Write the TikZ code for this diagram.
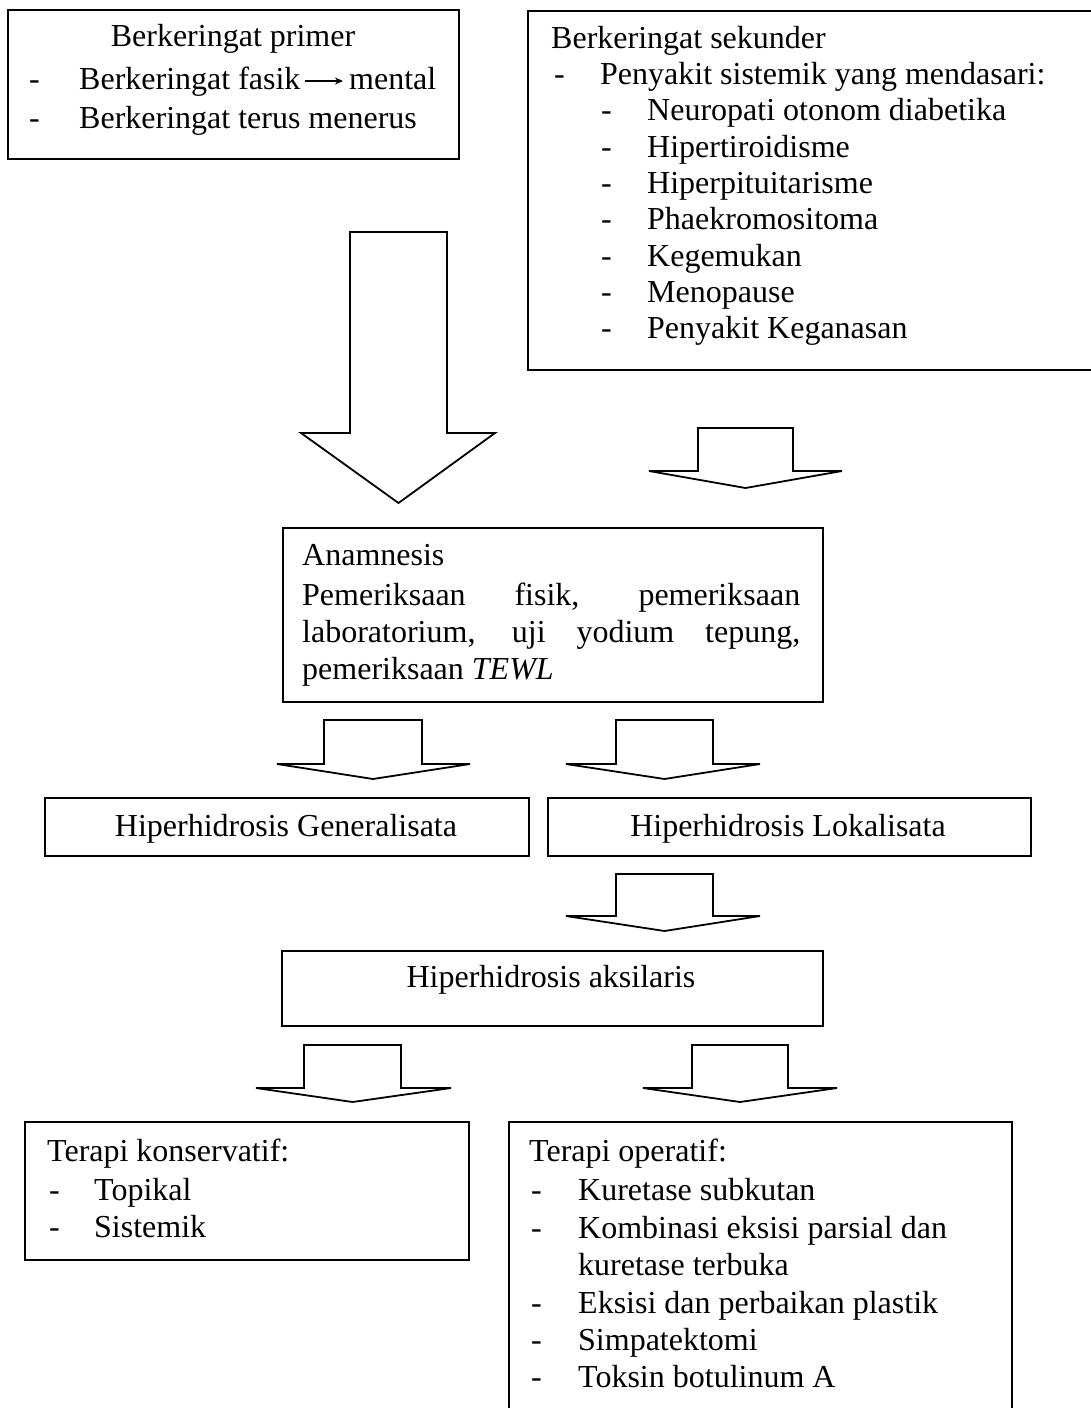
\documentclass[tikz,border=0pt]{standalone}
\usepackage{fontspec}
\setmainfont{Liberation Serif}
\usetikzlibrary{arrows.meta}
\newcommand\fsz{\fontsize{32}{37}\selectfont}
\newcommand\blockarrow[7]{%
  \draw[blk] (#1,#3) -- (#2,#3) -- (#2,#4) -- (#6,#4) -- ({(#1+#2)/2},#7) -- (#5,#4) -- (#1,#4) -- cycle;}
\begin{document}
\begin{tikzpicture}[x=1pt,y=-1pt,
  box/.style={draw, line width=1.8pt, inner sep=0pt, anchor=north west},
  txt/.style={inner sep=0pt, anchor=base west, font=\fsz},
  ctxt/.style={inner sep=0pt, anchor=base, font=\fsz},
  blk/.style={draw, line width=1.8pt, line join=miter},
  thinarrow/.style={draw, line width=1.3pt, -{Stealth[length=8pt,width=7pt]}}]
\useasboundingbox (0,0) rectangle (1091,1408);
\clip (0,0) rectangle (1091,1408);
\fill[white] (0,0) rectangle (1091,1408);

% boxes
\node[box, minimum width=451pt, minimum height=149pt] (prim) at (7,9) {};
\node[box, minimum width=575pt, minimum height=359pt] (sek) at (527,10) {};
\node[box, minimum width=540pt, minimum height=174pt] (anam) at (282,527) {};
\node[box, minimum width=484pt, minimum height=58pt] (gen) at (44,797) {};
\node[box, minimum width=483pt, minimum height=58pt] (lok) at (547,797) {};
\node[box, minimum width=541pt, minimum height=75pt] (aks) at (281,950) {};
\node[box, minimum width=444pt, minimum height=138pt] (kons) at (24,1121) {};
\node[box, minimum width=503pt, minimum height=300pt] (oper) at (508,1121) {};

% primary
\node[ctxt] (p1) at (233,46) {Berkeringat primer};
\node[txt] (p2d) at (29,89) {-};
\node[txt] (p2) at (79,89) {Berkeringat fasik};
\node[txt] (p2m) at (349,89) {mental};
\draw[thinarrow] ([xshift=4pt,yshift=8pt]p2.base east) -- ([xshift=-6pt,yshift=8pt]p2m.base west);
\node[txt] (p3d) at (29,128) {-};
\node[txt] (p3) at (79,128) {Berkeringat terus menerus};

% secondary
\node[txt] (s0) at (551,48) {Berkeringat sekunder};
\node[txt] (s1d) at (554,84) {-};
\node[txt] (s1) at (600,84) {Penyakit sistemik yang mendasari:};
\foreach \y/\t [count=\i] in {120/Neuropati otonom diabetika,157/Hipertiroidisme,193/Hiperpituitarisme,229/Phaekromositoma,266/Kegemukan,302/Menopause,338/Penyakit Keganasan}{
  \node[txt] (sd\i) at (601,\y) {-};
  \node[txt] (st\i) at (647,\y) {\t};
}

% anamnesis
\node[txt] (a1) at (302,565) {Anamnesis};
\node[txt] (a2) at (302,605) {\makebox[498pt][s]{Pemeriksaan fisik, pemeriksaan}};
\node[txt] (a3) at (302,642) {\makebox[498pt][s]{laboratorium, uji yodium tepung,}};
\node[txt] (a4) at (302,679) {pemeriksaan \textit{TEWL}};

% middle
\node[ctxt] (g1) at (286,836) {Hiperhidrosis Generalisata};
\node[ctxt] (l1) at (788,836) {Hiperhidrosis Lokalisata};
\node[ctxt] (x1) at (551,987) {Hiperhidrosis aksilaris};

% konservatif
\node[txt] (k0) at (47,1161) {Terapi konservatif:};
\node[txt] (k1d) at (49,1200) {-};
\node[txt] (k1) at (94,1200) {Topikal};
\node[txt] (k2d) at (49,1237) {-};
\node[txt] (k2) at (94,1237) {Sistemik};

% operatif
\node[txt] (o0) at (529,1161) {Terapi operatif:};
\foreach \y/\t [count=\i] in {1200/Kuretase subkutan,1238/Kombinasi eksisi parsial dan,1313/Eksisi dan perbaikan plastik,1350/Simpatektomi,1387/Toksin botulinum A}{
  \node[txt] (od\i) at (531,\y) {-};
  \node[txt] (ot\i) at (578,\y) {\t};
}
\node[txt] (ot2b) at (578,1275) {kuretase terbuka};

% block arrows
\blockarrow{350}{447}{232}{433}{301}{495}{503}
\blockarrow{698}{793}{428}{471}{649}{842}{488}
\blockarrow{324}{422}{720}{764}{277}{470}{779}
\blockarrow{616}{713}{720}{764}{566}{760}{779}
\blockarrow{616}{713}{874}{916}{566}{760}{931}
\blockarrow{304}{401}{1045}{1088}{256}{451}{1102}
\blockarrow{692}{788}{1045}{1088}{643}{837}{1102}
\end{tikzpicture}
\end{document}
